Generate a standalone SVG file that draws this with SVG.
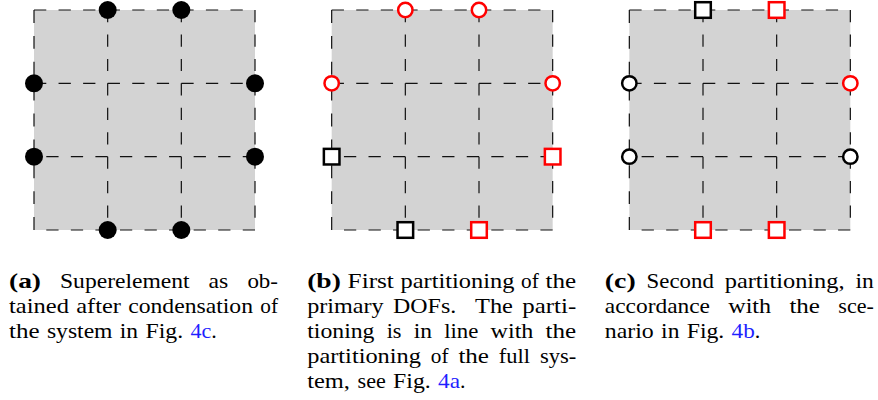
<svg xmlns="http://www.w3.org/2000/svg" width="878" height="400" viewBox="0 0 878 400">
<style>
.bg{fill:#d3d3d3;stroke:none}
.ln{fill:none;stroke:#111;stroke-width:1.2}
.hA{stroke-dasharray:12.28 12.28}
.hB{stroke-dasharray:12.28 12.28;stroke-dashoffset:12.28}
.vA{stroke-dasharray:12.22 12.22}
.vL{stroke-dasharray:12.94 12.94}
.lnk{fill:#1f1fff}
</style>
<defs>
<g id="gridlines">
<path class="ln hA" d="M0,10H221"/>
<path class="ln hA" d="M0,83.33H221"/>
<path class="ln hB" d="M0,156.67H221"/>
<path class="ln hB" d="M0,230H221"/>
<path class="ln vL" d="M0,10V230"/>
<path class="ln vA" d="M73.67,10V230"/>
<path class="ln vA" d="M147.33,10V230"/>
<path class="ln vA" d="M221,10V230"/>
</g>
<circle id="dot" r="9" fill="#000"/>
<circle id="ocb" r="7.2" fill="#fff" stroke="#000" stroke-width="2.5"/>
<circle id="ocr" r="7.2" fill="#fff" stroke="#f00" stroke-width="2.5"/>
<rect id="sqb" x="-7.8" y="-7.8" width="15.6" height="15.6" fill="#fff" stroke="#000" stroke-width="2.5"/>
<rect id="sqr" x="-7.8" y="-7.8" width="15.6" height="15.6" fill="#fff" stroke="#f00" stroke-width="2.5"/>
</defs>

<g id="backgrounds">
<rect class="bg" x="34" y="10" width="221" height="220"/>
<rect class="bg" x="331.67" y="10" width="221" height="220"/>
<rect class="bg" x="629.33" y="10" width="221" height="220"/>
</g>

<g id="connectors">
<use href="#gridlines" transform="translate(34,0)"/>
<use href="#gridlines" transform="translate(331.67,0)"/>
<use href="#gridlines" transform="translate(629.33,0)"/>
</g>

<g id="panel-a">
<g id="a-t1"><use href="#dot" x="107.67" y="10"/></g>
<g id="a-t2"><use href="#dot" x="181.33" y="10"/></g>
<g id="a-l1"><use href="#dot" x="34" y="83.33"/></g>
<g id="a-l2"><use href="#dot" x="34" y="156.67"/></g>
<g id="a-r1"><use href="#dot" x="255" y="83.33"/></g>
<g id="a-r2"><use href="#dot" x="255" y="156.67"/></g>
<g id="a-b1"><use href="#dot" x="107.67" y="230"/></g>
<g id="a-b2"><use href="#dot" x="181.33" y="230"/></g>
</g>

<g id="panel-b">
<g id="b-t1"><use href="#ocr" x="405.33" y="10"/></g>
<g id="b-t2"><use href="#ocr" x="479" y="10"/></g>
<g id="b-l1"><use href="#ocr" x="331.67" y="83.33"/></g>
<g id="b-r1"><use href="#ocr" x="552.67" y="83.33"/></g>
<g id="b-l2"><use href="#sqb" x="331.67" y="156.67"/></g>
<g id="b-r2"><use href="#sqr" x="552.67" y="156.67"/></g>
<g id="b-b1"><use href="#sqb" x="405.33" y="230"/></g>
<g id="b-b2"><use href="#sqr" x="479" y="230"/></g>
</g>

<g id="panel-c">
<g id="c-t1"><use href="#sqb" x="703" y="10"/></g>
<g id="c-t2"><use href="#sqr" x="776.67" y="10"/></g>
<g id="c-l1"><use href="#ocb" x="629.33" y="83.33"/></g>
<g id="c-r1"><use href="#ocr" x="850.33" y="83.33"/></g>
<g id="c-l2"><use href="#ocb" x="629.33" y="156.67"/></g>
<g id="c-r2"><use href="#ocb" x="850.33" y="156.67"/></g>
<g id="c-b1"><use href="#sqr" x="703" y="230"/></g>
<g id="c-b2"><use href="#sqr" x="776.67" y="230"/></g>
</g>

<g id="captions" font-family="Liberation Serif, serif" font-size="22" fill="#000">
<g id="caption-a">
<text font-weight="bold" x="9" y="288" textLength="32" lengthAdjust="spacingAndGlyphs">(a)</text>
<text x="60" y="288" textLength="129.6" lengthAdjust="spacingAndGlyphs">Superelement</text>
<text x="208.6" y="288" textLength="19.7" lengthAdjust="spacingAndGlyphs">as</text>
<text x="247.4" y="288" textLength="30.6" lengthAdjust="spacingAndGlyphs">ob-</text>
<text x="9" y="313" textLength="59.9" lengthAdjust="spacingAndGlyphs">tained</text>
<text x="76.2" y="313" textLength="44.7" lengthAdjust="spacingAndGlyphs">after</text>
<text x="128.2" y="313" textLength="124.8" lengthAdjust="spacingAndGlyphs">condensation</text>
<text x="260.3" y="313" textLength="17.7" lengthAdjust="spacingAndGlyphs">of</text>
<text x="9" y="338" textLength="30.6" lengthAdjust="spacingAndGlyphs">the</text>
<text x="46.9" y="338" textLength="65.6" lengthAdjust="spacingAndGlyphs">system</text>
<text x="119.8" y="338" textLength="18.3" lengthAdjust="spacingAndGlyphs">in</text>
<text x="145.5" y="338" textLength="37.6" lengthAdjust="spacingAndGlyphs">Fig.</text>
<text class="lnk" x="190.4" y="338" textLength="20.8" lengthAdjust="spacingAndGlyphs">4c</text>
<text x="211.2" y="338">.</text>
</g>

<g id="caption-b">
<text font-weight="bold" x="307.2" y="288" textLength="33.7" lengthAdjust="spacingAndGlyphs">(b)</text>
<text x="347.6" y="288" textLength="46.3" lengthAdjust="spacingAndGlyphs">First</text>
<text x="400.6" y="288" textLength="113.8" lengthAdjust="spacingAndGlyphs">partitioning</text>
<text x="521.1" y="288" textLength="17.7" lengthAdjust="spacingAndGlyphs">of</text>
<text x="545.5" y="288" textLength="30.6" lengthAdjust="spacingAndGlyphs">the</text>
<text x="307.2" y="313" textLength="76.5" lengthAdjust="spacingAndGlyphs">primary</text>
<text x="393.1" y="313" textLength="63.1" lengthAdjust="spacingAndGlyphs">DOFs.</text>
<text x="475" y="313" textLength="37.9" lengthAdjust="spacingAndGlyphs">The</text>
<text x="522.3" y="313" textLength="53.9" lengthAdjust="spacingAndGlyphs">parti-</text>
<text x="307.2" y="338" textLength="67.3" lengthAdjust="spacingAndGlyphs">tioning</text>
<text x="386.7" y="338" textLength="14.8" lengthAdjust="spacingAndGlyphs">is</text>
<text x="413.7" y="338" textLength="18.3" lengthAdjust="spacingAndGlyphs">in</text>
<text x="444.2" y="338" textLength="34.2" lengthAdjust="spacingAndGlyphs">line</text>
<text x="490.6" y="338" textLength="42.8" lengthAdjust="spacingAndGlyphs">with</text>
<text x="545.6" y="338" textLength="30.6" lengthAdjust="spacingAndGlyphs">the</text>
<text x="307.2" y="363" textLength="113.8" lengthAdjust="spacingAndGlyphs">partitioning</text>
<text x="430.85" y="363" textLength="17.7" lengthAdjust="spacingAndGlyphs">of</text>
<text x="458.4" y="363" textLength="30.6" lengthAdjust="spacingAndGlyphs">the</text>
<text x="498.85" y="363" textLength="31.2" lengthAdjust="spacingAndGlyphs">full</text>
<text x="539.9" y="363" textLength="36.3" lengthAdjust="spacingAndGlyphs">sys-</text>
<text x="307.2" y="388" textLength="42.8" lengthAdjust="spacingAndGlyphs">tem,</text>
<text x="357.6" y="388" textLength="28.2" lengthAdjust="spacingAndGlyphs">see</text>
<text x="393.1" y="388" textLength="37.6" lengthAdjust="spacingAndGlyphs">Fig.</text>
<text class="lnk" x="438" y="388" textLength="22" lengthAdjust="spacingAndGlyphs">4a</text>
<text x="460" y="388">.</text>
</g>

<g id="caption-c">
<text font-weight="bold" x="604.8" y="288" textLength="30.9" lengthAdjust="spacingAndGlyphs">(c)</text>
<text x="646.6" y="288" textLength="67.2" lengthAdjust="spacingAndGlyphs">Second</text>
<text x="724.7" y="288" textLength="119.9" lengthAdjust="spacingAndGlyphs">partitioning,</text>
<text x="855.5" y="288" textLength="18.3" lengthAdjust="spacingAndGlyphs">in</text>
<text x="604.8" y="313" textLength="105.2" lengthAdjust="spacingAndGlyphs">accordance</text>
<text x="728.3" y="313" textLength="42.8" lengthAdjust="spacingAndGlyphs">with</text>
<text x="789.4" y="313" textLength="30.6" lengthAdjust="spacingAndGlyphs">the</text>
<text x="838.3" y="313" textLength="35.5" lengthAdjust="spacingAndGlyphs">sce-</text>
<text x="604.8" y="338" textLength="49" lengthAdjust="spacingAndGlyphs">nario</text>
<text x="661.1" y="338" textLength="18.3" lengthAdjust="spacingAndGlyphs">in</text>
<text x="686.7" y="338" textLength="37.6" lengthAdjust="spacingAndGlyphs">Fig.</text>
<text class="lnk" x="731.6" y="338" textLength="23.2" lengthAdjust="spacingAndGlyphs">4b</text>
<text x="754.8" y="338">.</text>
</g>
</g>
</svg>
